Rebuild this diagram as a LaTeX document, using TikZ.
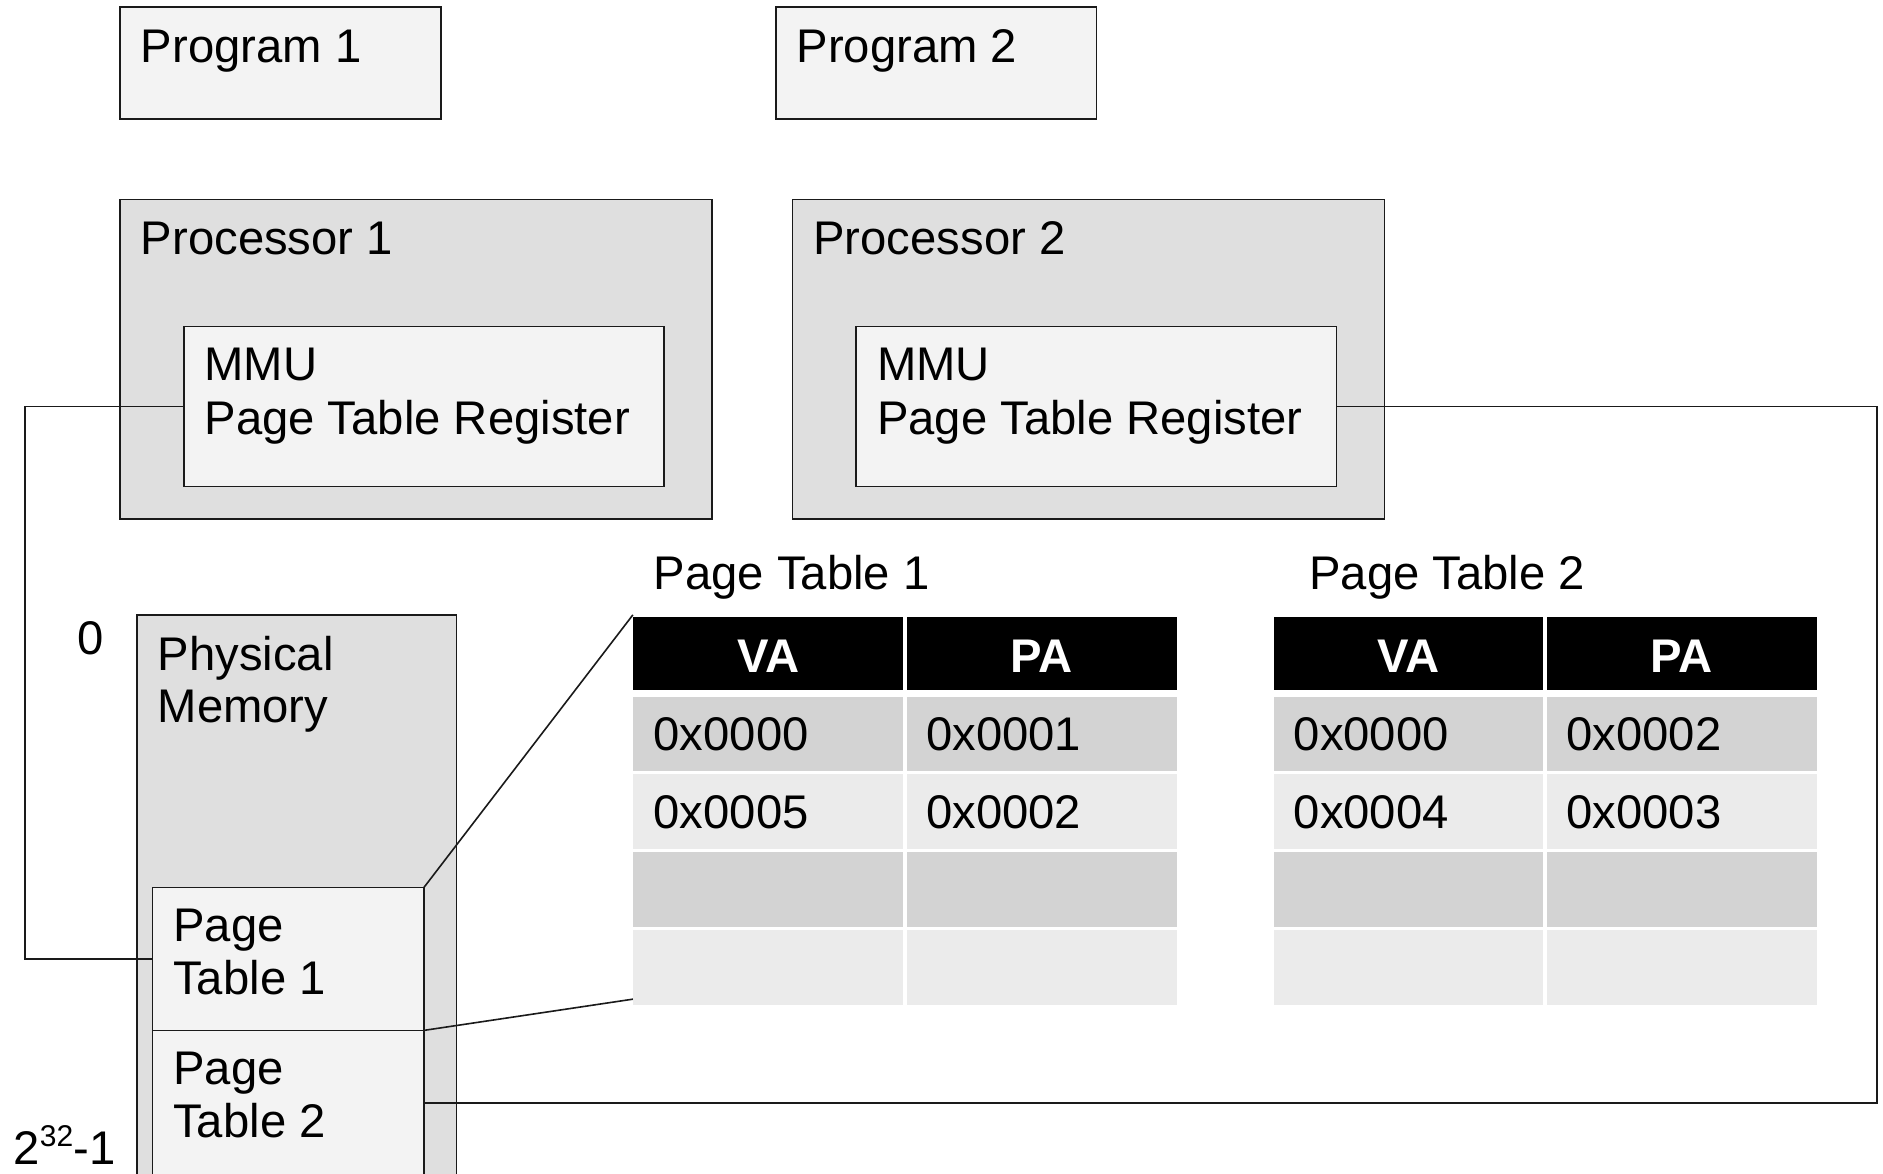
\documentclass[tikz,border=0pt]{standalone}
\usepackage{fontspec}
\setmainfont{Liberation Sans}
\usetikzlibrary{fit}
\definecolor{paleFill}{HTML}{F3F3F3}
\definecolor{greyFill}{HTML}{DFDFDF}
\definecolor{rowDark}{HTML}{D3D3D3}
\definecolor{rowLight}{HTML}{EBEBEB}
\definecolor{edge}{HTML}{1A1A1A}
\begin{document}
\begin{tikzpicture}[x=0.6pt,y=-0.6pt,
  box/.style={draw=edge, line width=0.8pt, inner sep=0pt, outer sep=0pt, fill=#1},
  cell/.style={inner sep=0pt, outer sep=0pt, fill=#1},
  lbl/.style={anchor=base west, inner sep=0pt, font=\fontsize{23.6pt}{27pt}\selectfont},
  hdr/.style={anchor=base, inner sep=0pt, text=white, font=\bfseries\fontsize{23.6pt}{27pt}\selectfont},
  wire/.style={draw=edge, line width=0.8pt}]
\clip (0,0) rectangle (1568,977);
\fill[white] (0,0) rectangle (1568,977);

% programs
\node[box=paleFill, fit={(100,6) (367,99)}] (prog1) {};
\node[box=paleFill, fit={(646,6) (913,99)}] (prog2) {};
\node[lbl] (prog1t) at (117,52) {Program 1};
\node[lbl] (prog2t) at (663,52) {Program 2};

% processors with their MMUs
\node[box=greyFill, fit={(100,166) (593,432)}] (proc1) {};
\node[box=greyFill, fit={(660,166) (1153,432)}] (proc2) {};
\node[lbl] (proc1t) at (117,212) {Processor 1};
\node[lbl] (proc2t) at (677,212) {Processor 2};
\node[box=paleFill, fit={(153,272) (553,405)}] (mmu1) {};
\node[box=paleFill, fit={(713,272) (1113,405)}] (mmu2) {};
\node[lbl] (mmu1a) at (170,317) {MMU};
\node[lbl] (mmu1b) at (170,362) {Page Table Register};
\node[lbl] (mmu2a) at (730,317) {MMU};
\node[lbl] (mmu2b) at (730,362) {Page Table Register};

% physical memory column
\node[box=greyFill, fit={(114,512) (380,995)}] (mem) {};
\node[lbl] (mema) at (131,558) {Physical};
\node[lbl] (memb) at (131,602) {Memory};
\node[lbl] (addrlo) at (64,545) {0};
\node[lbl] (addrhi) at (11,970) {2\raisebox{0.4em}{\fontsize{15pt}{15pt}\selectfont 32}-1};
\node[box=paleFill, fit={(127,739) (353,858)}] (pt1) {};
\node[box=paleFill, fit={(127,858) (353,979)}] (pt2) {};
\node[lbl] (pt1a) at (144,784) {Page};
\node[lbl] (pt1b) at (144,828) {Table 1};
\node[lbl] (pt2a) at (144,903) {Page};
\node[lbl] (pt2b) at (144,947) {Table 2};

% the two page tables
\node[lbl] (tab1t) at (544,491) {Page Table 1};
\node[lbl] (tab2t) at (1090,491) {Page Table 2};
\foreach \tb/\xa/\xb/\xc/\xd in {1/527/752/755/980, 2/1061/1285/1288/1513} {
  \node[cell=black, fit={(\xa,514) (\xb,574.5)}] (t\tb-h1) {};
  \node[cell=black, fit={(\xc,514) (\xd,574.5)}] (t\tb-h2) {};
  \foreach \r/\ya/\yb/\shade in {1/580/642/rowDark, 2/644.5/707/rowLight, 3/709.5/772/rowDark, 4/774.5/837/rowLight} {
    \node[cell=\shade, fit={(\xa,\ya) (\xb,\yb)}] (t\tb-r\r-c1) {};
    \node[cell=\shade, fit={(\xc,\ya) (\xd,\yb)}] (t\tb-r\r-c2) {};
  }
}
\node[hdr] (t1va) at (640,560) {VA};
\node[hdr] (t1pa) at (867,560) {PA};
\node[hdr] (t2va) at (1173,560) {VA};
\node[hdr] (t2pa) at (1400,560) {PA};
\node[lbl] (t1a1) at (544,625) {0x0000};
\node[lbl] (t1b1) at (771,625) {0x0001};
\node[lbl] (t1a2) at (544,690) {0x0005};
\node[lbl] (t1b2) at (771,690) {0x0002};
\node[lbl] (t2a1) at (1077,625) {0x0000};
\node[lbl] (t2b1) at (1304,625) {0x0002};
\node[lbl] (t2a2) at (1077,690) {0x0004};
\node[lbl] (t2b2) at (1304,690) {0x0003};

% register-to-table connectors
\coordinate (lbend) at (21,338.5);
\coordinate (rbend) at (1563,338.5);
\draw[wire] (mmu1.west) -- (lbend) |- (pt1.west);
\draw[wire] (mmu2.east) -- (rbend) |- (pt2.east);

% zoom lines from the stored table to its expanded view
\coordinate (zoomtop) at (527,512);
\coordinate (zoomlow) at (527,832);
\draw[wire] (pt1.north east) -- (zoomtop);
\draw[wire] (pt1.south east) -- (zoomlow);
\end{tikzpicture}
\end{document}
